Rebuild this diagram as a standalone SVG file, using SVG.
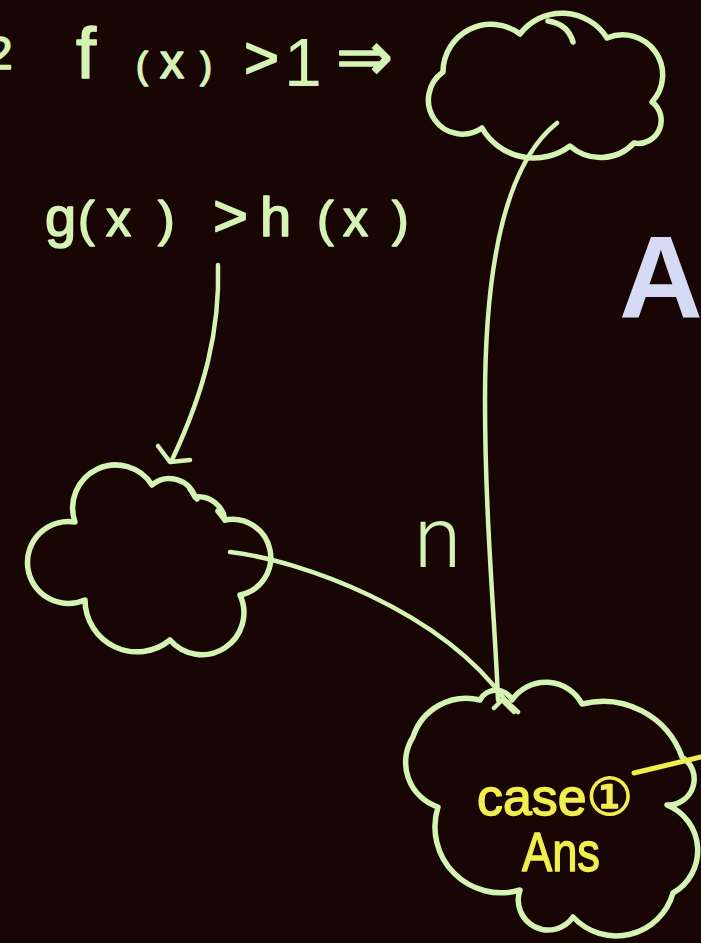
<svg xmlns="http://www.w3.org/2000/svg" width="701" height="943" viewBox="0 0 701 943">
<style>
.bg{fill:#170604}
.cloud{fill:none;stroke:#d5f3b2;stroke-width:5.5;stroke-linecap:round;stroke-linejoin:round}
.conn{fill:none;stroke:#d5f3b2;stroke-width:4.5;stroke-linecap:round;stroke-linejoin:round}
.hw{fill:#d5f3b2;stroke:#d5f3b2;stroke-width:1.6;stroke-linejoin:round;font-family:"Liberation Sans","DejaVu Sans",sans-serif}
.yl{fill:#f2ee4e;stroke:#f2ee4e;stroke-width:1.4;stroke-linejoin:round;font-family:"Liberation Sans","DejaVu Sans","Noto Sans CJK JP",sans-serif}
.big{fill:#d5dbf5;font-family:"Liberation Sans",Arial,sans-serif;font-weight:bold}
</style>
<rect class="bg" x="0" y="0" width="701" height="943"/>

<g id="label-top">
<text class="hw" x="-13" y="69" font-size="46">2</text>
<text class="hw" y="78"><tspan x="76" font-size="72">f</tspan><tspan x="136" font-size="36">(</tspan><tspan x="160" font-size="48">x</tspan><tspan x="200" font-size="36">)</tspan> <tspan x="244" font-size="60">&gt;</tspan> <tspan x="284" y="86" font-size="68" stroke-width="0">1</tspan> <tspan x="336" y="80" font-size="68">⇒</tspan></text>
</g>

<g id="cloud-top">
<path class="cloud" d="M 443 72 A 48 48 0 0 1 520 34 A 53 53 0 0 1 607 38 A 40 40 0 0 1 652 102 A 23 23 0 0 1 634 143 A 46 46 0 0 1 570 146 A 60 60 0 0 1 482 128 A 34 34 0 0 1 443 72 Z"/>
<path class="cloud" d="M 548 21 Q 568 24 573 42"/>
</g>

<g id="label-g">
<text class="hw" y="236" font-size="50"><tspan x="45" font-size="56">g</tspan><tspan x="78">(</tspan><tspan x="106">x</tspan><tspan x="158">)</tspan> <tspan x="213" font-size="60">&gt;</tspan><tspan x="260" font-size="56">h</tspan><tspan x="317">(</tspan><tspan x="343">x</tspan><tspan x="392">)</tspan></text>
</g>

<g id="cloud-left">
<path class="cloud" d="M 75 522 A 43 43 0 0 1 152 485 A 27 27 0 0 1 195 497 A 27 27 0 0 1 225 520 A 38 38 0 0 1 240 595 A 42 42 0 0 1 170 640 A 52 52 0 0 1 85 600 A 41 41 0 1 1 75 522 Z"/>
<path class="cloud" d="M 190 489 L 197 499 M 218 511 L 225 520"/>
</g>

<g id="cloud-bottom">
<path class="cloud" d="M 413 737 A 56 56 0 0 1 480 700 A 18 18 0 0 1 512 700 A 41 41 0 0 1 582 704 A 84 84 0 0 1 682 757 A 26 26 0 0 1 667 805 A 49 49 0 0 1 673 893 A 59 59 0 0 1 573 917 A 30 30 0 0 1 520 890 A 66 66 0 0 1 438 807 A 47 47 0 0 1 413 737 Z"/>
<text class="yl" x="477" y="815" font-size="52" textLength="156" lengthAdjust="spacingAndGlyphs">case①</text>
<text class="yl" x="522" y="871" font-size="56" textLength="78" lengthAdjust="spacingAndGlyphs">Ans</text>
</g>

<g id="label-n">
<text x="414" y="567" font-size="86" fill="#d5f3b2" font-family="Roboto,'Liberation Sans',sans-serif" font-weight="300">n</text>
</g>

<g id="label-A">
<text class="big" x="619" y="318" font-size="116">A</text>
</g>

<g id="connectors">
<path class="conn" d="M 218 265 C 220 330 205 390 172 460"/>
<path class="conn" d="M 158 446 L 170 462 L 190 460"/>
<path class="conn" d="M 557 123 C 510 160 485 250 485 400 C 485 520 495 620 498 700"/>
<path class="conn" d="M 230 552 C 300 560 440 610 505 700"/>
<path class="conn" d="M 494 708 L 502 700 L 514 712 M 505 700 L 518 712"/>
<path fill="none" stroke="#f2ee4e" stroke-width="5" stroke-linecap="round" d="M 634 773 L 701 757"/>
</g>
</svg>
